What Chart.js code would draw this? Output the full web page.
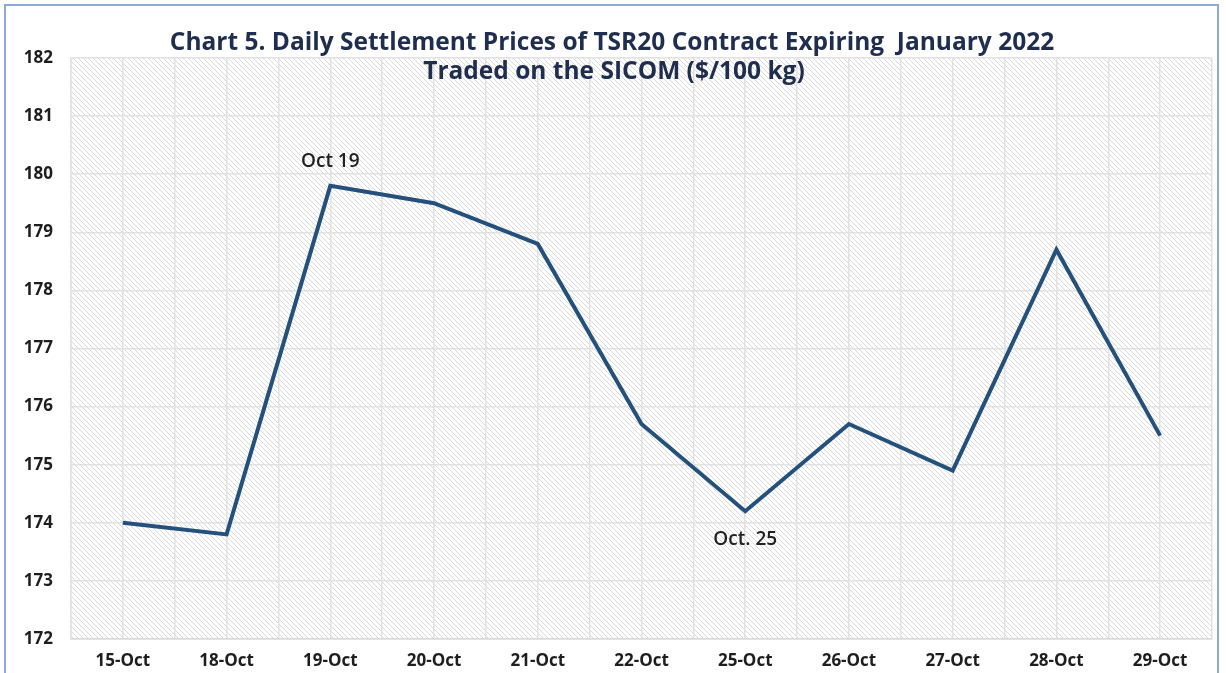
<!DOCTYPE html>
<html>
<head>
<meta charset="utf-8">
<script src="https://cdn.jsdelivr.net/npm/chart.js@4"></script>
<style>
  body { margin: 0; background: #fff; }
  #box { position: absolute; left: 4px; top: 4px; width: 1211px; height: 680px; border: 2px solid #8eaadb; }
  canvas { position: absolute; left: 0; top: 0; }
</style>
</head>
<body>
<div id="box"></div>
<canvas id="meuGrafico" width="1226" height="673"></canvas>
<script>
var categories = ['15-Oct', '18-Oct', '19-Oct', '20-Oct', '21-Oct', '22-Oct', '25-Oct', '26-Oct', '27-Oct', '28-Oct', '29-Oct'];
var prices = [174.0, 173.8, 179.8, 179.5, 178.8, 175.7, 174.2, 175.7, 174.9, 178.7, 175.5];
var yMin = 172;
var yMax = 182;
var titleLines = ['Chart 5. Daily Settlement Prices of TSR20 Contract Expiring  January 2022', 'Traded on the SICOM ($/100 kg)'];
var noteLabels = ['Oct 19', 'Oct. 25'];
var noteAt = [2, 6];
var noteSide = ['above', 'below'];

var fontName = '"Open Sans", Lato, sans-serif';

// striped background of the plot area
function makeStripes() {
    var c = document.createElement('canvas');
    c.width = 5;
    c.height = 5;
    var g = c.getContext('2d');
    g.fillStyle = '#ffffff';
    g.fillRect(0, 0, 5, 5);
    g.strokeStyle = '#d9d9d9';
    g.lineWidth = 1;
    g.beginPath();
    g.moveTo(-1, -1); g.lineTo(6, 6);
    g.moveTo(-1, 4); g.lineTo(1, 6);
    g.moveTo(4, -1); g.lineTo(6, 1);
    g.stroke();
    return g.createPattern(c, 'repeat');
}

var extras = {
    id: 'extras',
    beforeDraw: function (chart) {
        var a = chart.chartArea;
        var ctx = chart.ctx;
        ctx.save();
        ctx.fillStyle = makeStripes();
        ctx.fillRect(a.left, a.top, a.right - a.left, a.bottom - a.top);
        ctx.restore();
    },
    afterDraw: function (chart) {
        var ctx = chart.ctx;
        var xs = chart.scales.x;
        var ys = chart.scales.y;
        ctx.save();
        ctx.textAlign = 'center';
        ctx.textBaseline = 'middle';
        ctx.fillStyle = '#1f2d4e';
        ctx.font = 'bold 24.5px ' + fontName;
        ctx.fillText(titleLines[0], 612, 43);
        ctx.fillText(titleLines[1], 614, 72);

        ctx.fillStyle = '#222';
        ctx.font = '600 19px ' + fontName;
        for (var i = 0; i < noteLabels.length; i++) {
            var k = noteAt[i];
            var px = xs.getPixelForValue(k);
            var py = ys.getPixelForValue(prices[k]);
            ctx.fillText(noteLabels[i], px, noteSide[i] === 'above' ? py - 24 : py + 28);
        }
        ctx.restore();
    }
};

var points = [];
for (var i = 0; i < prices.length; i++) {
    points.push({ x: i, y: prices[i] });
}

new Chart(document.getElementById('meuGrafico').getContext('2d'), {
    type: 'line',
    data: {
        datasets: [{
            data: points,
            borderColor: '#24507c',
            borderWidth: 4,
            pointRadius: 0,
            tension: 0,
            fill: false
        }]
    },
    options: {
        responsive: false,
        animation: false,
        layout: { padding: { left: 0, top: 58, right: 14, bottom: 0 } },
        plugins: {
            legend: { display: false },
            title: { display: false },
            tooltip: { enabled: false }
        },
        scales: {
            x: {
                type: 'linear',
                min: -0.5,
                max: 10.5,
                afterBuildTicks: function (scale) {
                    var t = [];
                    for (var v = -0.5; v <= 10.5; v += 0.5) t.push({ value: v });
                    scale.ticks = t;
                },
                afterFit: function (scale) { scale.height = 34; },
                grid: { color: '#e2e2e2', lineWidth: 1.5, drawTicks: false },
                border: { display: true, color: '#d9d9d9', width: 1.5 },
                ticks: {
                    autoSkip: false,
                    maxRotation: 0,
                    padding: 12,
                    color: '#1e1e1e',
                    font: { family: fontName, size: 17, weight: 'bold' },
                    callback: function (v) {
                        return Number.isInteger(v) ? categories[v] : '';
                    }
                }
            },
            y: {
                min: yMin,
                max: yMax,
                afterFit: function (scale) { scale.width = 71; },
                grid: { color: '#e2e2e2', lineWidth: 1.5, drawTicks: false },
                border: { display: true, color: '#e2e2e2', width: 1.5 },
                ticks: {
                    stepSize: 1,
                    padding: 18,
                    color: '#1e1e1e',
                    font: { family: fontName, size: 17, weight: 'bold' }
                }
            }
        }
    },
    plugins: [extras]
});
</script>
</body>
</html>
